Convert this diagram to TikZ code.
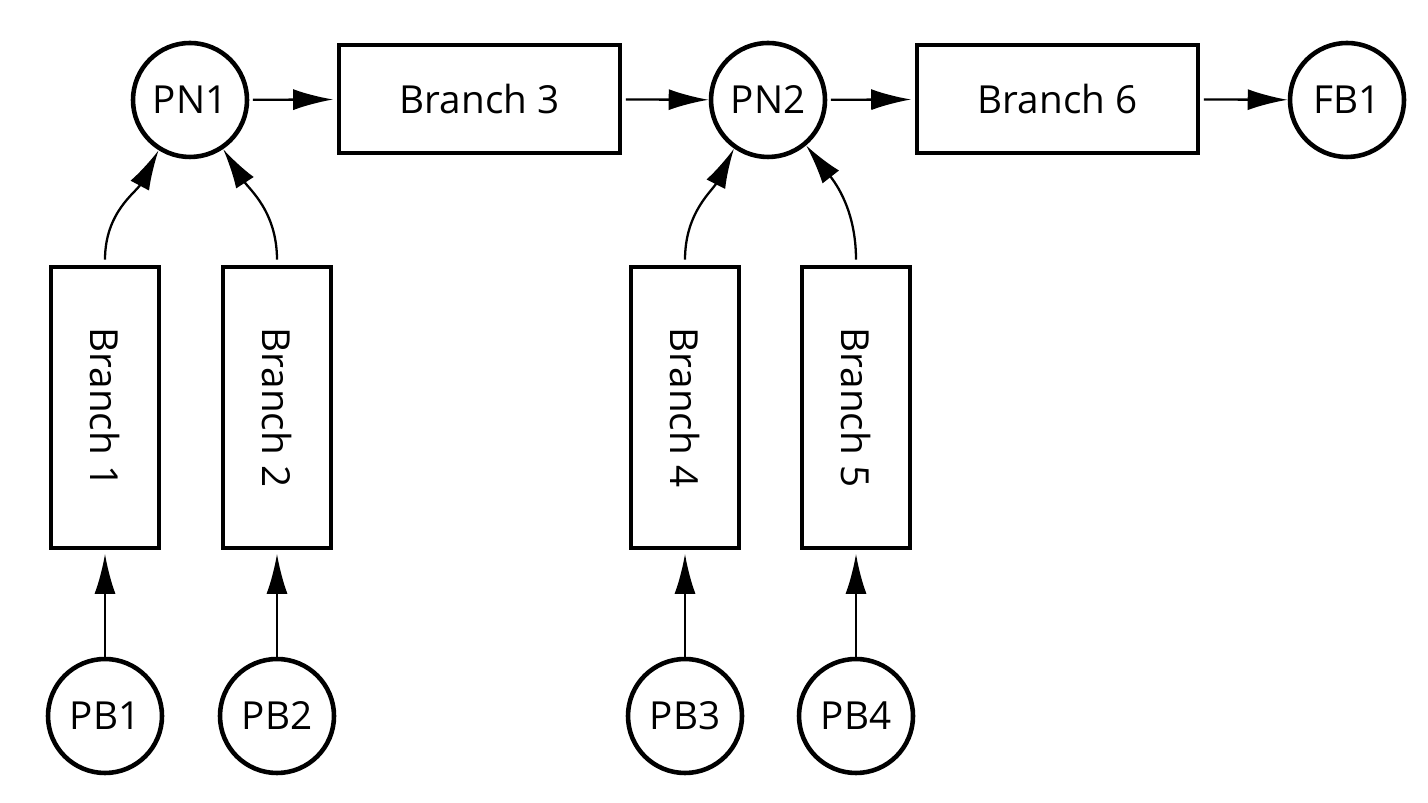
\documentclass[tikz,border=0pt]{standalone}
\usepackage{fontspec}
\setmainfont{Open Sans}
\usetikzlibrary{arrows.meta, positioning}

\begin{document}
\begin{tikzpicture}[>={Latex[length=8mm, width=4.2mm]}, line width=1.3pt,
    lbl/.style={font=\fontsize{22}{26}\selectfont},
    pnode/.style={lbl, circle, draw, line width=2.6pt, minimum size=22.8mm, inner sep=0pt},
    hbranch/.style={lbl, rectangle, draw, line width=2.6pt, minimum width=56.2mm, minimum height=21.6mm},
    vbranch/.style={lbl, rectangle, draw, line width=2.6pt, minimum width=21.6mm, minimum height=56.2mm}]
  \useasboundingbox (0,0) rectangle (28.56,16.06);

  % Main line
  \node[pnode] (pn1) at (3.8,14.06) {PN1};
  \node[hbranch] (b3) at (9.59,14.08) {Branch 3};
  \node[pnode] (pn2) at (15.36,14.06) {PN2};
  \node[hbranch] (b6) at (21.15,14.08) {Branch 6};
  \node[pnode] (fb1) at (26.94,14.06) {FB1};

  % Side branches
  \node[vbranch] (b1) at (2.1,7.91) {\rotatebox{-90}{Branch 1}};
  \node[vbranch] (b2) at (5.54,7.91) {\rotatebox{-90}{Branch 2}};
  \node[vbranch] (b4) at (13.7,7.91) {\rotatebox{-90}{Branch 4}};
  \node[vbranch] (b5) at (17.12,7.91) {\rotatebox{-90}{Branch 5}};

  % Sources
  \node[pnode] (pb1) at (2.1,1.74) {PB1};
  \node[pnode] (pb2) at (5.54,1.74) {PB2};
  \node[pnode] (pb3) at (13.7,1.74) {PB3};
  \node[pnode] (pb4) at (17.12,1.74) {PB4};

  % Flow along the main line
  \draw[->, shorten <=2pt, shorten >=2pt] (pn1) -- (b3);
  \draw[->, shorten <=2pt] (b3) -- (pn2);
  \draw[->, shorten <=2pt, shorten >=2pt] (pn2) -- (b6);
  \draw[->, shorten <=2pt] (b6) -- (fb1);

  % Sources into branches
  \draw[->, shorten >=2pt] (pb1) -- (b1);
  \draw[->, shorten >=2pt] (pb2) -- (b2);
  \draw[->, shorten >=2pt] (pb3) -- (b4);
  \draw[->, shorten >=2pt] (pb4) -- (b5);

  % Branches into junctions
  \draw[->] ([yshift=1mm]b1.north) to[out=90, in=242] (pn1.-122);
  \draw[->] ([yshift=1mm]b2.north) to[out=90, in=303] (pn1.-56);
  \draw[->] ([yshift=1mm]b4.north) to[out=90, in=243] (pn2.-125);
  \draw[->] ([yshift=1mm]b5.north) to[out=90, in=308] (pn2.-50);
\end{tikzpicture}
\end{document}
